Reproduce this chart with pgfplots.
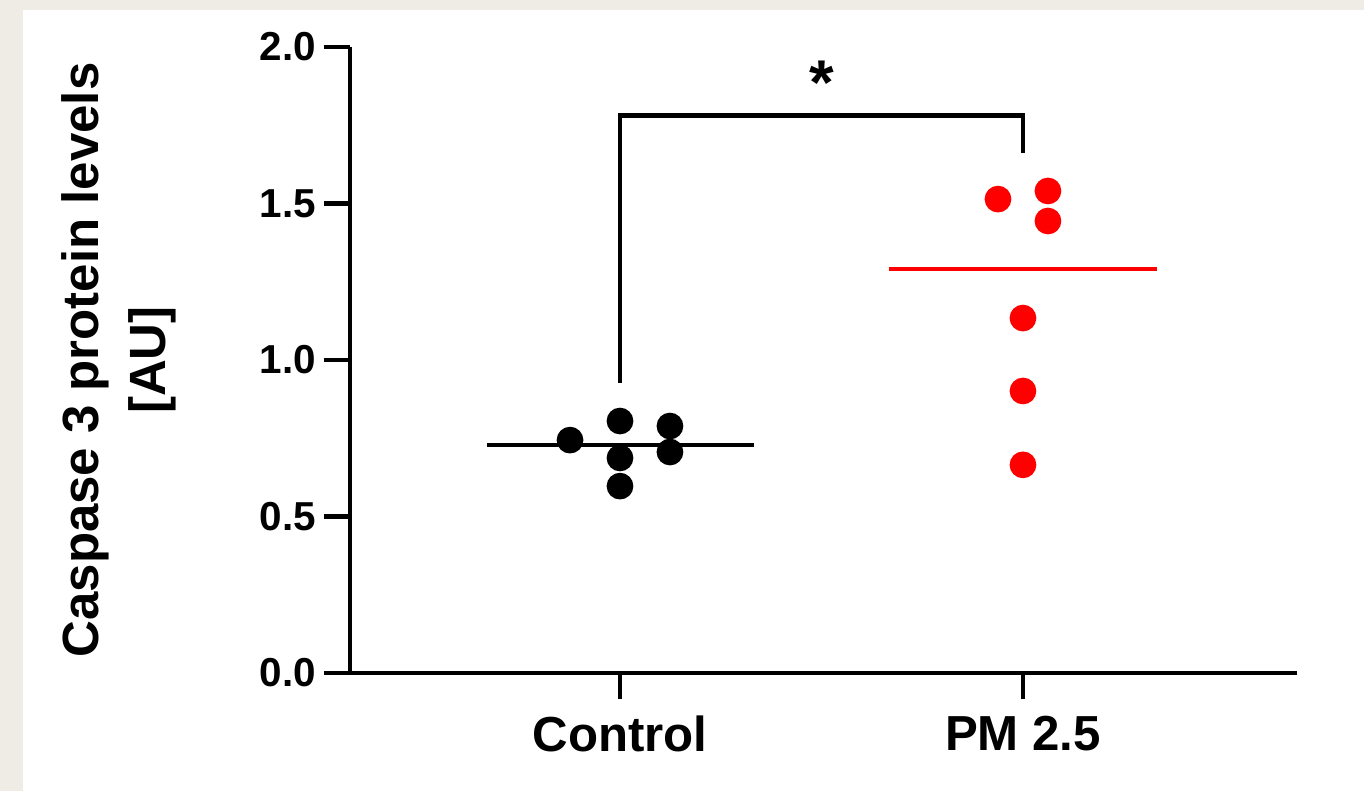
\documentclass[border=0pt]{standalone}
\usepackage{fontspec}
\setmainfont{Liberation Sans}
\usepackage{pgfplots}
\pgfplotsset{compat=1.18}
\definecolor{frameBeige}{RGB}{239,236,229}
\definecolor{ptRed}{RGB}{255,0,0}

\begin{document}
\begin{tikzpicture}
% page frame: beige strip on top and left
\fill[frameBeige] (0,0) rectangle (13.64cm,7.91cm);
\fill[white] (0.23cm,0) rectangle (13.64cm,7.81cm);
\begin{axis}[
  at={(3.50cm,1.18cm)}, anchor=south west,
  scale only axis, width=9.47cm, height=6.26cm,
  xmin=0.33, xmax=2.68, ymin=0, ymax=2,
  clip=false,
  axis lines=left,
  axis line style={-, line width=1.35pt, black},
  tick style={black, line width=1.35pt},
  major tick length=7.5pt, tick align=outside,
  xtick={1,2}, xticklabels={Control,PM 2.5},
  ytick={0,0.5,1,1.5,2}, yticklabels={0.0,0.5,1.0,1.5,2.0},
  xticklabel style={font=\bfseries\fontsize{14}{16}\selectfont, yshift=-1.2pt},
  yticklabel style={font=\bfseries\fontsize{11.5}{13}\selectfont, inner sep=2pt},
  ylabel={Caspase 3 protein levels\\{}[AU]},
  ylabel style={at={(axis description cs:-0.244,0.5)}, anchor=center,
    align=center, font=\bfseries\fontsize{14.5}{19}\selectfont},
]
% individual values
\addplot[only marks, mark=*, mark size=3.6pt, black] coordinates {
  (0.876,0.744) (1,0.805) (1,0.687) (1,0.597) (1.124,0.789) (1.124,0.706)};
\addplot[only marks, mark=*, mark size=3.6pt, ptRed] coordinates {
  (1.938,1.514) (2.062,1.540) (2.062,1.444) (2,1.134) (2,0.901) (2,0.665)};
% medians
\addplot[black, line width=1.35pt] coordinates {(0.67,0.728) (1.333,0.728)};
\addplot[ptRed, line width=1.35pt] coordinates {(1.667,1.291) (2.333,1.291)};
% significance bracket
\addplot[black, line width=1.35pt] coordinates {(1,0.927) (1,1.78) (2,1.78) (2,1.661)};
\node[anchor=base, font=\bfseries\fontsize{18}{20}\selectfont, inner sep=0pt]
  at (axis cs:1.5,1.815) {*};
\end{axis}
\pgfresetboundingbox
\path[use as bounding box] (0,0) rectangle (13.64cm,7.91cm);
\end{tikzpicture}
\end{document}
